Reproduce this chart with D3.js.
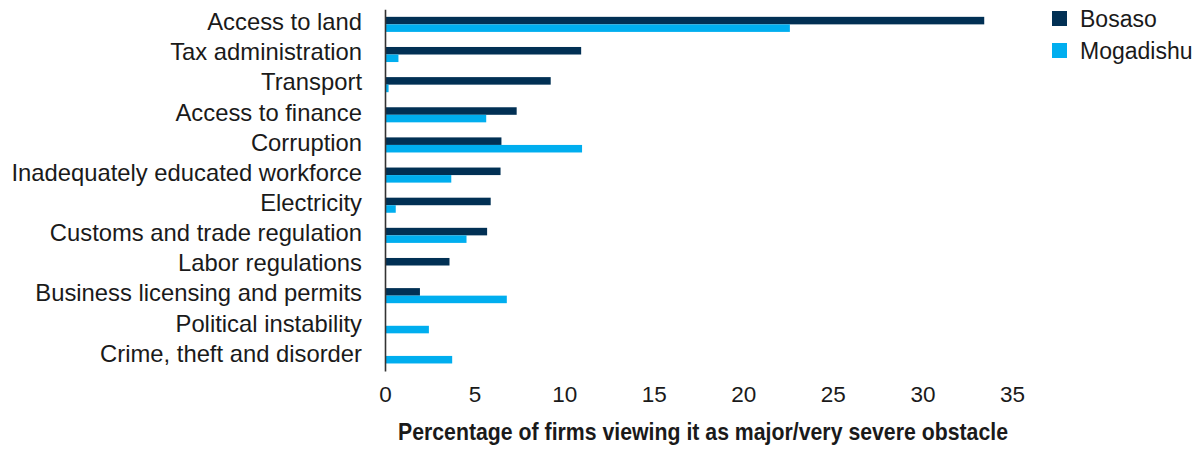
<!DOCTYPE html>
<html>
<head>
<meta charset="utf-8">
<script src="https://cdn.jsdelivr.net/npm/d3@7"></script>
<style>
  html, body { margin: 0; padding: 0; background: #fff; }
  svg { display: block; }
  text { font-family: "Liberation Sans", Arial, sans-serif; fill: #1a1a1a; }
</style>
</head>
<body>
<svg id="chart" width="1199" height="449"></svg>
<script>
// Obstacles to doing business, by city
const categories = [
  "Access to land",
  "Tax administration",
  "Transport",
  "Access to finance",
  "Corruption",
  "Inadequately educated workforce",
  "Electricity",
  "Customs and trade regulation",
  "Labor regulations",
  "Business licensing and permits",
  "Political instability",
  "Crime, theft and disorder"
];
const seriesNames = ["Bosaso", "Mogadishu"];
const bosaso    = [33.45, 10.95, 9.25, 7.35, 6.5, 6.45, 5.9, 5.7, 3.6, 1.95, 0, 0];
const mogadishu = [22.6, 0.75, 0.2, 5.65, 11.0, 3.7, 0.6, 4.55, 0, 6.8, 2.45, 3.75];
const xTicks = [0, 5, 10, 15, 20, 25, 30, 35];
const xTitle = "Percentage of firms viewing it as major/very severe obstacle";
const colors = ["#013054", "#00aeef"];

const svg = d3.select("#chart");

const x = d3.scaleLinear().domain([0, 35]).range([385, 1012]);
const y = d3.scaleBand().domain(categories).range([9.3, 371])
  .paddingInner(0.5).paddingOuter(0.25);
const ySub = d3.scaleBand().domain(seriesNames).range([0, y.bandwidth()]);
const color = d3.scaleOrdinal().domain(seriesNames).range(colors);

const rows = categories.map((c, i) => ({
  category: c,
  values: [
    { series: "Bosaso", value: bosaso[i] },
    { series: "Mogadishu", value: mogadishu[i] }
  ]
}));

// bars
const groups = svg.append("g").selectAll("g")
  .data(rows).join("g")
  .attr("transform", d => `translate(0,${y(d.category)})`);

groups.selectAll("rect")
  .data(d => d.values.filter(v => v.value > 0))
  .join("rect")
  .attr("x", x(0))
  .attr("y", v => ySub(v.series))
  .attr("width", v => x(v.value) - x(0))
  .attr("height", ySub.bandwidth())
  .attr("fill", v => color(v.series));

// category axis
const yAxis = svg.append("g")
  .attr("transform", `translate(${x(0)},0)`)
  .call(d3.axisLeft(y).tickSize(0).tickPadding(23));
yAxis.select(".domain").attr("stroke", "#333").attr("stroke-width", 1.6);
yAxis.selectAll(".tick text")
  .style("font-size", "23.8px")
  .attr("dy", "0.24em")
  .attr("fill", "#1a1a1a");

// value axis (labels only)
const xAxis = svg.append("g")
  .attr("transform", `translate(0,371)`)
  .call(d3.axisBottom(x).tickValues(xTicks).tickSize(0).tickPadding(15));
xAxis.select(".domain").remove();
xAxis.selectAll(".tick text")
  .style("font-size", "22.5px")
  .attr("fill", "#1a1a1a");

// axis title, condensed bold
svg.append("text")
  .attr("x", 703)
  .attr("y", 440)
  .attr("text-anchor", "middle")
  .attr("textLength", 610)
  .attr("lengthAdjust", "spacingAndGlyphs")
  .style("font-weight", "bold")
  .style("font-size", "24px")
  .text(xTitle);

// legend
const legend = svg.append("g").selectAll("g")
  .data(seriesNames).join("g")
  .attr("transform", (d, i) => `translate(1052,${11 + i * 32})`);
legend.append("rect")
  .attr("width", 15).attr("height", 15)
  .attr("fill", d => color(d));
legend.append("text")
  .attr("x", 28).attr("y", 8)
  .attr("dy", "0.35em")
  .style("font-size", "23px")
  .text(d => d);
</script>
</body>
</html>
